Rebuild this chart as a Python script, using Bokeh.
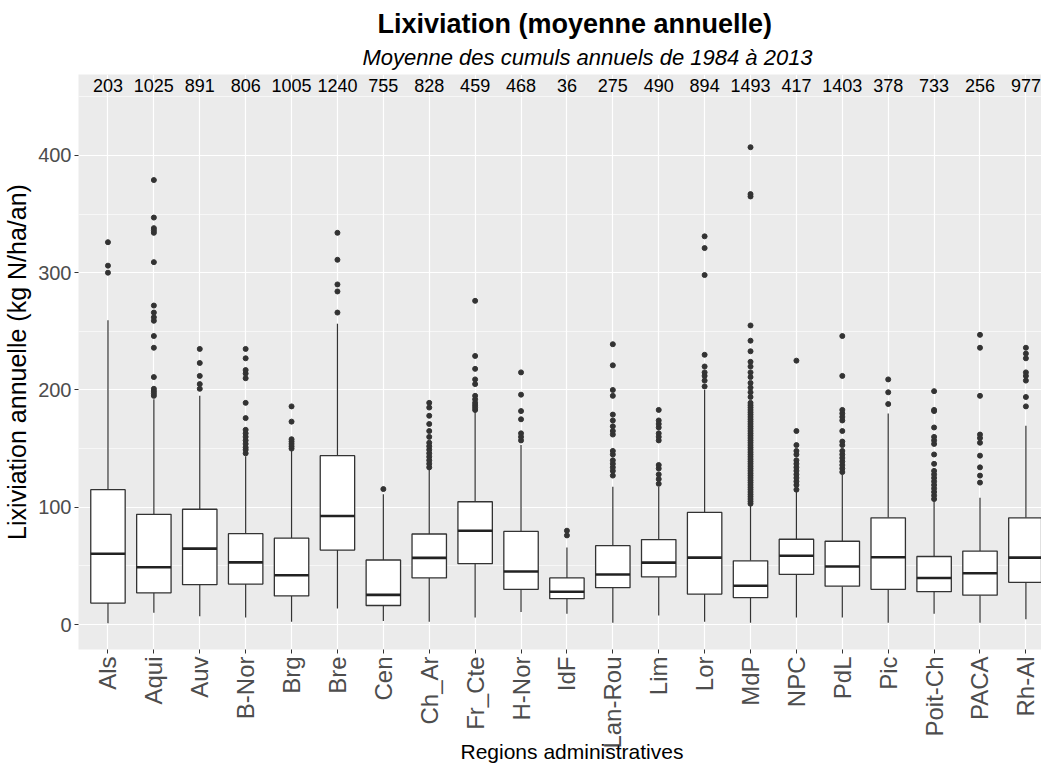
import math
from bokeh.plotting import figure
from bokeh.models import Range1d, FixedTicker, Title, ColumnDataSource
from bokeh.core.properties import value
from bokeh.embed import file_html
from bokeh.resources import INLINE

# ---------------- data ----------------
regions = ["Als", "Aqui", "Auv", "B-Nor", "Brg", "Bre", "Cen", "Ch_Ar", "Fr_Cte", "H-Nor",
           "IdF", "Lan-Rou", "Lim", "Lor", "MdP", "NPC", "PdL", "Pic", "Poit-Ch", "PACA", "Rh-Al"]
counts = [203, 1025, 891, 806, 1005, 1240, 755, 828, 459, 468,
          36, 275, 490, 894, 1493, 417, 1403, 378, 733, 256, 977]
whisk_lo = [1, 10, 7, 6, 2.4, 13.7, 3, 2.4, 6, 10.7,
            9.2, 1.5, 7.6, 2.4, 1.5, 6, 6, 1.5, 9.2, 1.5, 4.6]
q1 = [18.3, 27, 34, 34.5, 24.4, 63.5, 16.2, 39.7, 51.9, 30,
      22, 31.4, 40.6, 26, 23, 42.7, 32.7, 30, 28, 25, 36]
med = [60.4, 48.8, 64.7, 53, 42, 92.5, 25.3, 56.8, 80, 45.2,
       28, 42.7, 52.8, 57, 33, 58.6, 49.5, 57.4, 39.7, 43.7, 57]
q3 = [115, 94, 98.3, 77.5, 73.6, 144, 55, 77.2, 104.7, 79.4,
      39.7, 67.2, 72.4, 95.6, 54.3, 72.7, 71, 91, 58, 62.6, 91]
whisk_hi = [259.5, 192, 195, 143.5, 148, 256.5, 111, 132.8, 181.6, 153,
            65.6, 117.5, 117.5, 200, 102, 113, 128, 180, 105, 108, 169.4]
outliers = {
    "Als": [300, 306, 326],
    "Aqui": [195, 197, 199, 201, 211, 236, 246, 259, 262, 266, 272, 309, 334, 336, 338, 347, 379],
    "Auv": [201, 205, 212, 223, 235],
    "B-Nor": [146, 149, 151, 154, 157, 160, 163, 166, 176, 189, 210, 214, 217, 227, 235],
    "Brg": [150, 152, 154, 156, 158, 173, 186],
    "Bre": [266, 284, 290, 311, 334],
    "Cen": [115.5],
    "Ch_Ar": [134, 137, 140, 143, 146, 149, 152, 155, 160, 165, 171, 178, 185, 189],
    "Fr_Cte": [183, 185, 187, 189, 192, 195, 205, 209, 218, 229, 276],
    "H-Nor": [157, 160, 163, 175, 182, 196, 215],
    "IdF": [76, 80],
    "Lan-Rou": [127, 131, 134, 137, 140, 145, 148, 162, 165, 169, 174, 179, 195, 200, 221, 239],
    "Lim": [120, 124, 128, 133, 136, 157, 160, 163, 168, 171, 174, 183],
    "Lor": [203, 208, 212, 215, 220, 230, 298, 321, 331],
    "MdP": [103, 105, 107, 109, 111, 113, 115, 117, 119, 121, 123, 125, 127, 129, 131, 133,
            135, 137, 139, 141, 143, 145, 147, 149, 151, 153, 155, 157, 159, 161, 163, 165,
            167, 169, 171, 173, 175, 177, 179, 181, 183, 185, 187, 189, 194, 198, 202, 206,
            211, 215, 220, 224, 233, 242, 255, 365, 367, 407],
    "NPC": [115, 119, 122, 125, 128, 131, 134, 137, 140, 145, 148, 153, 165, 225],
    "PdL": [130, 133, 136, 139, 142, 145, 148, 153, 156, 165, 174, 177, 180, 183, 212, 246],
    "Pic": [188, 198, 209],
    "Poit-Ch": [107, 110, 113, 116, 119, 122, 125, 128, 131, 137, 145, 154, 157, 160, 168, 182, 183, 199],
    "PACA": [121, 127, 134, 144, 155, 159, 162, 195, 236, 247],
    "Rh-Al": [186, 194, 208, 212, 215, 227, 231, 236],
}
y_ticks = [0, 100, 200, 300, 400]
y_minor = [50, 150, 250, 350, 450]

title_text = "Lixiviation (moyenne annuelle)"
subtitle_text = "Moyenne des cumuls annuels de 1984 à 2013"
x_title = "Regions administratives"
y_title = "Lixiviation annuelle (kg N/ha/an)"

# ---------------- figure ----------------
FONT = "Liberation Sans"
pos = list(range(1, len(regions) + 1))
half = 0.375
dark = "#333333"
x_lo, x_hi = 0.358, 21.34
y_lo, y_hi = -21.3, 469

p = figure(width=1041, height=763, output_backend="svg", toolbar_location=None,
           x_range=Range1d(x_lo, x_hi), y_range=Range1d(y_lo, y_hi),
           title=title_text,
           min_border_left=70, min_border_right=0, min_border_top=74, min_border_bottom=114)
p.title.align = "left"
p.title.offset = 299
p.title.text_font = FONT
p.title.text_font_style = "bold"
p.title.text_font_size = "27px"
p.title.text_color = "black"
p.title.standoff = 0
p.add_layout(Title(text=subtitle_text, align="left", offset=284, text_font=FONT,
                   text_font_style="italic", text_font_size="22px", text_color="black",
                   standoff=9), "above")

p.background_fill_color = "#EBEBEB"
p.border_fill_color = "white"
p.outline_line_color = None

# grid
p.xgrid.ticker = FixedTicker(ticks=pos)
p.xgrid.grid_line_color = "white"
p.xgrid.grid_line_width = 1.2
p.ygrid.ticker = FixedTicker(ticks=y_ticks, minor_ticks=y_minor)
p.ygrid.grid_line_color = "white"
p.ygrid.grid_line_width = 1.2
p.ygrid.minor_grid_line_color = "white"
p.ygrid.minor_grid_line_width = 0.6

# axes
p.xaxis.ticker = FixedTicker(ticks=pos)
p.xaxis.major_label_overrides = {i: r for i, r in zip(pos, regions)}
p.xaxis.major_label_orientation = math.pi / 2
p.yaxis.ticker = FixedTicker(ticks=y_ticks)
for ax in (p.xaxis[0], p.yaxis[0]):
    ax.axis_line_color = None
    ax.major_tick_line_color = dark
    ax.major_tick_out = 4
    ax.major_tick_in = 0
    ax.minor_tick_line_color = None
    ax.major_label_text_font = FONT
    ax.major_label_text_color = "#4D4D4D"
    ax.axis_label_text_font = FONT
    ax.axis_label_text_font_style = "normal"
    ax.axis_label_text_color = "black"
p.xaxis.major_label_text_font_size = "24px"
p.yaxis.major_label_text_font_size = "20px"
p.yaxis.axis_label = y_title
p.yaxis.axis_label_text_font_size = "25px"
p.xaxis.major_label_standoff = 3
p.yaxis.major_label_standoff = 3
p.yaxis.axis_label_standoff = 4

# x-axis title: a title below the axis, pulled up beside the long tick labels
try:
    xt = Title(text=x_title, align="left", offset=382, vertical_align="top", standoff=-24,
               text_font=FONT, text_font_style="normal", text_font_size="21px",
               text_color="black")
except Exception:
    xt = Title(text=x_title, align="left", offset=382, vertical_align="top", standoff=0,
               text_font=FONT, text_font_style="normal", text_font_size="21px",
               text_color="black")
p.add_layout(xt, "below")

# boxes
src = ColumnDataSource(dict(x=pos, q1=q1, q3=q3, med=med, lo=whisk_lo, hi=whisk_hi,
                            x0=[x - half for x in pos], x1=[x + half for x in pos]))
p.segment(x0="x", x1="x", y0="lo", y1="q1", source=src, line_color=dark, line_width=1.2)
p.segment(x0="x", x1="x", y0="q3", y1="hi", source=src, line_color=dark, line_width=1.2)
p.vbar(x="x", width=2 * half, bottom="q1", top="q3", source=src,
       fill_color="white", line_color=dark, line_width=1.3)
p.segment(x0="x0", x1="x1", y0="med", y1="med", source=src, line_color="#222222", line_width=2.6)

ox, oy = [], []
for x, r in zip(pos, regions):
    for v in outliers[r]:
        ox.append(x)
        oy.append(v)
p.scatter(ox, oy, size=5, color=dark)

# counts
p.text(x=pos, y=[460] * len(pos), text=[str(c) for c in counts],
       text_align="center", text_baseline="middle", text_font=value(FONT),
       text_font_size="18px", text_color="black")

open("out.html", "w").write(file_html(p, INLINE))
